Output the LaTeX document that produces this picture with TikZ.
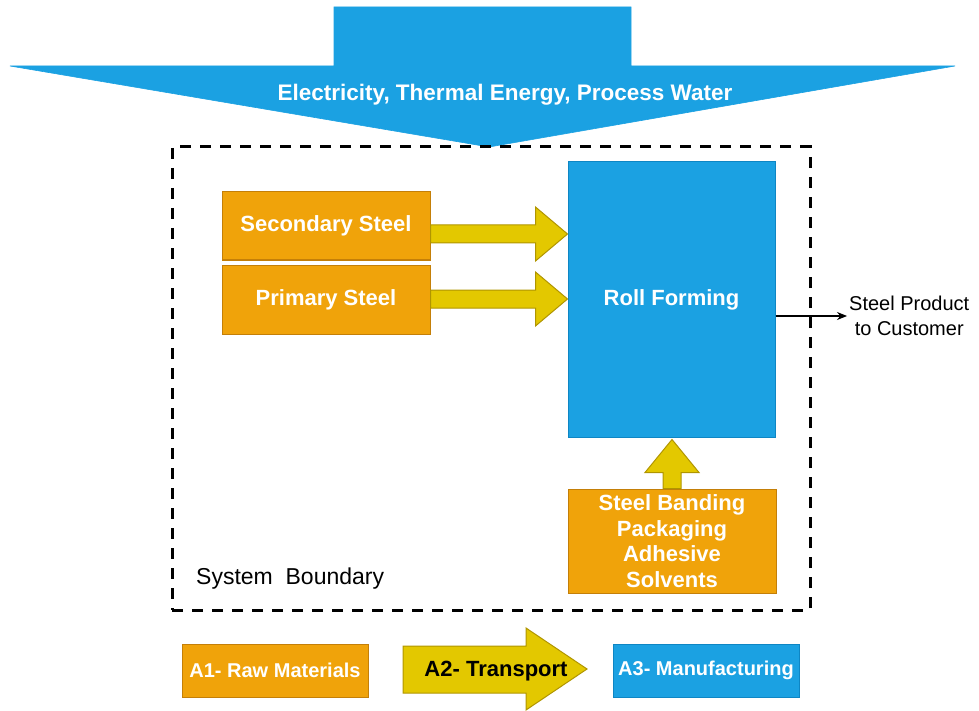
\documentclass[tikz,border=0pt]{standalone}
\usepackage{fontspec}
\setmainfont{Liberation Sans}
\usetikzlibrary{positioning,arrows.meta,calc}

\definecolor{drawblue}{HTML}{1BA1E2}
\definecolor{drawblueline}{HTML}{0E86C4}
\definecolor{draworange}{HTML}{F0A30A}
\definecolor{draworangeline}{HTML}{C47F08}
\definecolor{drawyellow}{HTML}{E3C800}
\definecolor{drawyellowline}{HTML}{B09500}

\begin{document}
\begin{tikzpicture}[x=1pt, y=-1pt,
    material/.style={rectangle, draw=draworangeline, fill=draworange, line width=1pt, text=white, font=\bfseries\fontsize{22}{25.5}\selectfont, align=center, inner sep=0pt},
    process/.style={rectangle, draw=drawblueline, fill=drawblue, line width=1pt, text=white, font=\bfseries\fontsize{22}{26}\selectfont, align=center, inner sep=0pt},
    feed/.style={draw=drawyellowline, fill=drawyellow, line width=1pt, line join=miter},
    energy/.style={draw=drawblue, fill=drawblue, line width=0.6pt, line join=miter},
    boundary/.style={rectangle, draw, line width=3pt, dash pattern=on 11pt off 9pt, minimum width=638pt, minimum height=463pt, inner sep=0pt},
    legend/.style={font=\bfseries\fontsize{20}{24}\selectfont}
]
    \useasboundingbox (0,0) rectangle (979,711);

    % Energy input
    \coordinate (etip) at (489,147);
    \draw[energy] (etip) -- (10,66) -- (334,66) -- (334,7) -- (631,7) -- (631,66) -- (955,66) -- cycle;
    \node[text=white, font=\bfseries\fontsize{22.5}{27}\selectfont, anchor=base, inner sep=0pt] (energytext) at (505,101) {Electricity, Thermal Energy, Process Water};

    % System boundary
    \node[boundary] (bound) at (491,378.5) {};
    \node[anchor=base west, font=\fontsize{23}{27}\selectfont, inner sep=0pt] (boundtext) at (196,584) {System\ \ Boundary};

    % Raw materials
    \node[material, minimum width=208pt, minimum height=68pt] (sec) at (326,226) {Secondary Steel};
    \node[material, minimum width=208pt, minimum height=69pt] (prim) at (326,299.5) {Primary Steel};

    % Manufacturing
    \node[process, minimum width=207pt, minimum height=275pt] (roll) at (671.5,299.5) {Roll Forming};
    \node[material, minimum width=208pt, minimum height=104pt] (pack) at (672,541) {Steel Banding\\Packaging\\Adhesive\\Solvents};

    % Transport arrows
    \coordinate (t1) at (roll.west |- 0,234);
    \coordinate (s1) at (sec.east |- t1);
    \draw[feed] ([yshift=9pt]s1) -- ([xshift=-32pt,yshift=9pt]t1) -- ([xshift=-32pt,yshift=27pt]t1) -- (t1)
        -- ([xshift=-32pt,yshift=-27pt]t1) -- ([xshift=-32pt,yshift=-9pt]t1) -- ([yshift=-9pt]s1) -- cycle;
    \coordinate (t2) at (roll.west |- 0,299);
    \coordinate (s2) at (prim.east |- t2);
    \draw[feed] ([yshift=9pt]s2) -- ([xshift=-32pt,yshift=9pt]t2) -- ([xshift=-32pt,yshift=27pt]t2) -- (t2)
        -- ([xshift=-32pt,yshift=-27pt]t2) -- ([xshift=-32pt,yshift=-9pt]t2) -- ([yshift=-9pt]s2) -- cycle;
    \coordinate (t3) at ([yshift=-2pt]roll.south -| pack.north);
    \draw[feed] ([xshift=-9pt]pack.north) -- ([xshift=-9pt,yshift=-33pt]t3) -- ([xshift=-27pt,yshift=-33pt]t3) -- (t3)
        -- ([xshift=27pt,yshift=-33pt]t3) -- ([xshift=9pt,yshift=-33pt]t3) -- ([xshift=9pt]pack.north) -- cycle;

    % Output
    \node[anchor=west, align=center, font=\fontsize{20}{25}\selectfont, inner sep=2pt] (cust) at (847,316) {Steel Product\\to Customer};
    \draw[-{Stealth[length=10pt,width=8pt]}, line width=1.2pt] (roll.east |- cust) -- (cust);

    % Legend
    \node[material, legend, minimum width=186pt, minimum height=53pt] (a1) at (275,670.5) {A1- Raw Materials};
    \draw[feed] (403,646) -- (526,646) -- (526,628) -- (587,669) -- (526,710) -- (526,693) -- (403,693) -- cycle;
    \node[font=\bfseries\fontsize{22}{26}\selectfont, inner sep=0pt] (a2) at (496,671) {A2- Transport};
    \node[process, legend, minimum width=186pt, minimum height=53pt] (a3) at (706,670.5) {A3- Manufacturing};
\end{tikzpicture}
\end{document}
